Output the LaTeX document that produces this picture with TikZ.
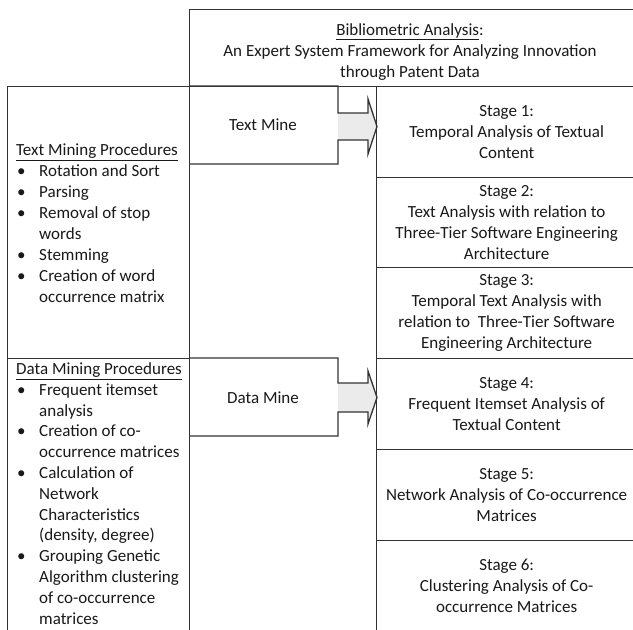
\documentclass[tikz,border=0pt]{standalone}
\usepackage{fontspec}
\setmainfont{Carlito}
\newcommand{\bitem}{\makebox[23pt][l]{\hspace{1pt}\textbullet}}
\newcommand{\cont}{\hspace*{23pt}}
\tikzset{
  frame/.style={draw=black!80, line width=1.3pt, line join=miter},
  cell/.style={frame, anchor=north west, inner sep=0pt, align=center, txt},
  txt/.style={font=\fontsize{17}{21}\selectfont, text=black!90},
  listtext/.style={txt, anchor=west, align=left, inner sep=0pt},
  blockfill/.style={fill=black!8},
}
\begin{document}
\begin{tikzpicture}[x=1pt, y=-1pt]
\useasboundingbox (0,0) rectangle (633,630);
\fill[white] (0,0) rectangle (633,630);

% title panel
\node[cell, minimum width=447pt, minimum height=77pt] (title) at (189,9) {};
\node[txt, align=center] (titletext) at (410,52)
  {\underline{Bibliometric Analysis}:\\An Expert System Framework for Analyzing Innovation\\through Patent Data};

% left column: procedure lists
\node[cell, minimum width=182pt, minimum height=272pt] (textbox) at (7,86) {};
\node[cell, minimum width=182pt, minimum height=290pt] (databox) at (7,358) {};
\node[listtext] (textproc) at (16,223.5) {\underline{Text Mining Procedures}\\
  \bitem Rotation and Sort\\
  \bitem Parsing\\
  \bitem Removal of stop\\
  \cont words\\
  \bitem Stemming\\
  \bitem Creation of word\\
  \cont occurrence matrix};
\node[listtext, font=\fontsize{17}{20.8}\selectfont] (dataproc) at (16,493.5) {\underline{Data Mining Procedures}\\
  \bitem Frequent itemset\\
  \cont analysis\\
  \bitem Creation of co-\\
  \cont occurrence matrices\\
  \bitem Calculation of\\
  \cont Network\\
  \cont Characteristics\\
  \cont (density, degree)\\
  \bitem Grouping Genetic\\
  \cont Algorithm clustering\\
  \cont of co-occurrence\\
  \cont matrices};

% middle column
\node[cell, minimum width=187pt, minimum height=562pt] (mid) at (189,86) {};

% block arrows: Text Mine and Data Mine
\fill[blockfill] (338,113) -- (368,113) -- (368,99) -- (377,126.5) -- (368,154) -- (368,140) -- (338,140) -- cycle;
\draw[frame] (189,86) -- (338,86) -- (338,113) -- (368,113) -- (368,99) -- (377,126.5)
  -- (368,154) -- (368,140) -- (338,140) -- (338,164) -- (189,164);
\node[txt] (tmine) at (263,125) {Text Mine};

\fill[blockfill] (338,383) -- (368,383) -- (368,371) -- (377,397.5) -- (368,424) -- (368,412) -- (338,412) -- cycle;
\draw[frame] (189,358) -- (338,358) -- (338,383) -- (368,383) -- (368,371) -- (377,397.5)
  -- (368,424) -- (368,412) -- (338,412) -- (338,436) -- (189,436);
\node[txt] (dmine) at (263,398) {Data Mine};

% right column: stages
\node[cell, minimum width=260pt, minimum height=91pt] (s1) at (376,86)
  {Stage 1:\\Temporal Analysis of Textual\\Content};
\node[cell, minimum width=260pt, minimum height=90pt] (s2) at (376,177)
  {Stage 2:\\Text Analysis with relation to\\Three-Tier Software Engineering\\Architecture};
\node[cell, minimum width=260pt, minimum height=91pt] (s3) at (376,267)
  {Stage 3:\\Temporal Text Analysis with\\relation to\ \ Three-Tier Software\\Engineering Architecture};
\node[cell, minimum width=260pt, minimum height=91pt] (s4) at (376,358)
  {Stage 4:\\Frequent Itemset Analysis of\\Textual Content};
\node[cell, minimum width=260pt, minimum height=91pt] (s5) at (376,449)
  {Stage 5:\\Network Analysis of Co-occurrence\\Matrices};
\node[cell, minimum width=260pt, minimum height=91pt] (s6) at (376,540)
  {Stage 6:\\Clustering Analysis of Co-\\occurrence Matrices};
\end{tikzpicture}
\end{document}
